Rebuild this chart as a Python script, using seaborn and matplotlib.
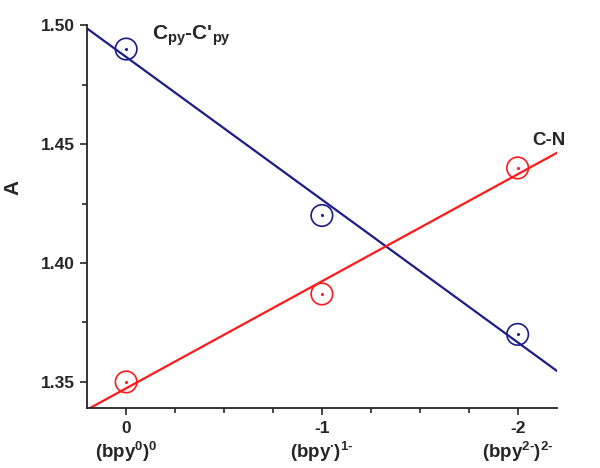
import numpy as np
import pandas as pd
import matplotlib
matplotlib.use("Agg")
import matplotlib.pyplot as plt
import seaborn as sns
from matplotlib.ticker import MultipleLocator

# data
charge = [0, -1, -2]
cpy_cpy = [1.49, 1.42, 1.37]
c_n = [1.35, 1.387, 1.44]
charge_ticks = ["0", "-1", "-2"]
state_labels = ["(bpy$^{0}$)$^{0}$", "(bpy$^{\\bullet}$)$^{1\u2010}$", "(bpy$^{2\u2010}$)$^{2\u2010}$"]

blue = "#1c1c8a"
red = "#ff1a1a"

sns.set_style("ticks")
plt.rcParams["font.family"] = ["Liberation Sans", "DejaVu Sans"]
plt.rcParams["font.weight"] = "bold"
plt.rcParams["mathtext.fontset"] = "custom"
plt.rcParams["mathtext.rm"] = "Liberation Sans:bold"
plt.rcParams["mathtext.it"] = "Liberation Sans:bold"
plt.rcParams["mathtext.bf"] = "Liberation Sans:bold"

df = pd.DataFrame({"charge": charge, "cpy": cpy_cpy, "cn": c_n})

fig = plt.figure(figsize=(6, 4.68), dpi=100)
ax = fig.add_axes([0.145, 0.128, 0.783, 0.818])
ax.set_xlim(0.2, -2.2)
ax.set_ylim(1.339, 1.50)

# open circles + straight fit line per bond
for col, color in [("cpy", blue), ("cn", red)]:
    sns.regplot(data=df, x="charge", y=col, ax=ax, ci=None, truncate=False,
                scatter_kws=dict(s=240, facecolors="none", edgecolors=color, linewidths=1.2, alpha=1),
                line_kws=dict(color=color, lw=1.6))
    ax.scatter(df["charge"], df[col], s=1.5, color=color, zorder=5)

ax.set_xlim(0.2, -2.2)
ax.set_ylim(1.339, 1.50)
ax.set_xticks(charge)
ax.set_xticklabels(charge_ticks, fontsize=12.5, fontweight="bold")
for xv, lab in zip(charge, state_labels):
    ax.text(xv, -0.131, lab, transform=ax.get_xaxis_transform(), ha="center", va="baseline",
            fontsize=13.5, fontweight="bold")
ax.xaxis.set_minor_locator(MultipleLocator(0.25))
ax.set_yticks([1.35, 1.40, 1.45, 1.50])
ax.set_yticklabels(["1.35", "1.40", "1.45", "1.50"], fontsize=12.5, fontweight="bold")
ax.yaxis.set_minor_locator(MultipleLocator(0.025))
ax.tick_params(which="major", length=5, width=1.2, direction="out")
ax.tick_params(axis="x", which="major", pad=4)
ax.tick_params(which="minor", length=3.5, width=1.2, direction="out")
ax.set_xlabel("")
ax.set_ylabel("A", fontsize=15, fontweight="bold")
ax.yaxis.set_label_coords(-0.138, 0.577)
for s in ["left", "bottom"]:
    ax.spines[s].set_linewidth(1.3)
sns.despine(ax=ax)

fig.text(0.253, 0.915, "C$_{py}$-C'$_{py}$", fontsize=15, fontweight="bold")
fig.text(0.887, 0.69, "C-N", fontsize=13.5, fontweight="bold")

fig.savefig("out.png", dpi=100)
